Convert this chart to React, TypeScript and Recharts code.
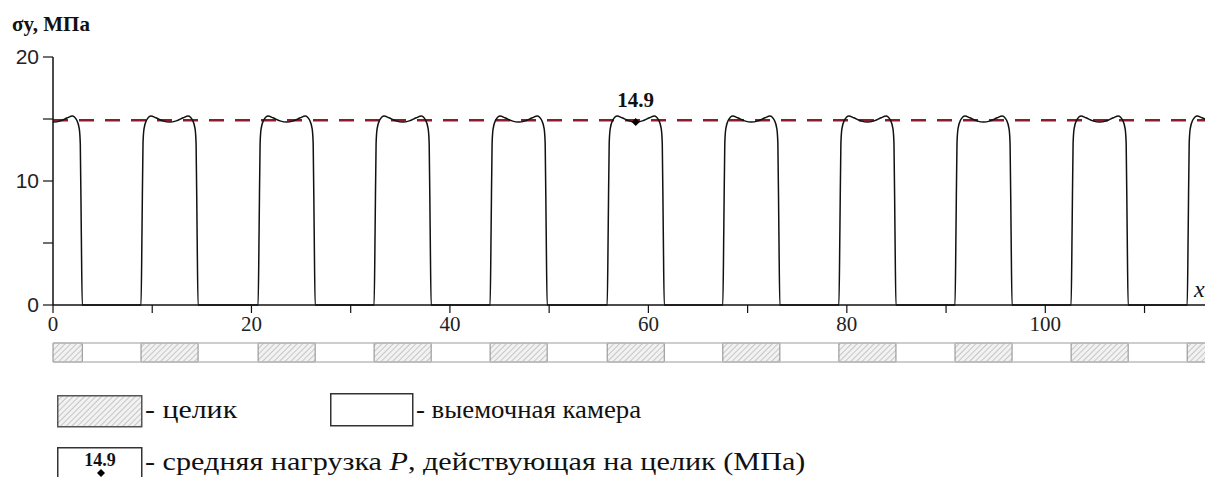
import React from 'react';
import {
  ComposedChart,
  Line,
  XAxis,
  YAxis,
  ReferenceLine,
  ReferenceDot,
  ReferenceArea,
} from 'recharts';

// Left edges of the pillars (целик), in x units
const pillarLeft = [-2.8, 8.87, 20.67, 32.36, 44.05, 55.85, 67.5, 79.2, 90.9, 102.6, 114.3];
const pillarWidth = 5.75;
// Stress profile across one pillar: offset from the left edge, σy (MPa)
const profileOffset = [0, 0.1, 0.2, 0.3, 0.55, 1.0, 1.5, 2.2, 2.875, 3.55, 4.25, 4.75, 5.2, 5.45, 5.55, 5.65, 5.75];
const profileStress = [0, 6, 13.0, 14.2, 14.9, 15.25, 15.1, 14.85, 14.75, 14.85, 15.1, 15.25, 14.9, 14.2, 13.0, 6, 0];

const meanLoad = 14.9;
const markerX = 58.72;
const markerY = 14.75;

const xTicks = [0, 10, 20, 30, 40, 50, 60, 70, 80, 90, 100, 110];
const xLabels = [0, 20, 40, 60, 80, 100];
const yTicks = [0, 5, 10, 15, 20];
const yLabels = [0, 10, 20];
const X_MAX = 116.9;

const curve: { x: number; s: number }[] = [];
pillarLeft.forEach((l) => {
  profileOffset.forEach((o, i) => {
    curve.push({ x: +(l + o).toFixed(3), s: profileStress[i] });
  });
});
const stripData = [
  { x: 0, s: 0 },
  { x: X_MAX, s: 1 },
];

const SERIF = "'Liberation Serif', 'Times New Roman', serif";
const SANS = "'Liberation Sans', Arial, sans-serif";

const Diamond = (props: any) => {
  const { cx, cy } = props;
  const r = 4;
  return <path d={`M${cx},${cy - r}L${cx + r},${cy}L${cx},${cy + r}L${cx - r},${cy}Z`} fill="#000" />;
};

const legendText = (left: number, top: number, scale: number): React.CSSProperties => ({
  position: 'absolute',
  left,
  top,
  fontFamily: SERIF,
  fontSize: 26,
  color: '#111',
  lineHeight: '32px',
  whiteSpace: 'nowrap',
  transform: `scaleX(${scale})`,
  transformOrigin: 'left center',
});

export default function App() {
  return (
    <div style={{ position: 'relative', width: 1205, height: 469, overflow: 'hidden', background: '#fff' }}>
      <svg width={0} height={0} style={{ position: 'absolute' }}>
        <defs>
          <pattern id="hatch" width="4" height="4" patternUnits="userSpaceOnUse" patternTransform="rotate(45)">
            <rect width="4" height="4" fill="#f2f2f2" />
            <line x1="0" y1="0" x2="0" y2="4" stroke="#a8a8a8" strokeWidth="1.2" />
          </pattern>
        </defs>
      </svg>
      <div
        style={{
          position: 'absolute',
          left: 4,
          top: 4,
          fontFamily: SERIF,
          fontWeight: 'bold',
          fontSize: 21,
          color: '#111',
          zIndex: 2,
        }}
      >
        σy, МПа
      </div>
      <ComposedChart width={1205} height={330} data={curve} margin={{ top: 49, right: 0, bottom: 3, left: 0 }}>
        <XAxis
          dataKey="x"
          type="number"
          domain={[0, X_MAX]}
          allowDataOverflow
          ticks={xTicks}
          tickFormatter={(v: number) => (xLabels.includes(v) ? String(v) : '')}
          tickSize={8}
          tickMargin={3}
          height={30}
          axisLine={{ stroke: '#111', strokeWidth: 1.5 }}
          tickLine={{ stroke: '#111', strokeWidth: 1.2 }}
          tick={{ fill: '#222', fontFamily: SERIF, fontSize: 21 }}
          interval={0}
        />
        <YAxis
          type="number"
          domain={[0, 20]}
          ticks={yTicks}
          tickFormatter={(v: number) => (yLabels.includes(v) ? String(v) : '')}
          width={45}
          tickSize={10}
          tickMargin={4}
          axisLine={{ stroke: '#111', strokeWidth: 1.5 }}
          tickLine={{ stroke: '#111', strokeWidth: 1.2 }}
          tick={{ fill: '#222', fontFamily: SANS, fontSize: 21 }}
          interval={0}
        />
        <ReferenceLine y={meanLoad} stroke="#8c1c2c" strokeWidth={2.5} strokeDasharray="15 11" ifOverflow="visible" />
        <Line
          dataKey="s"
          type="monotone"
          stroke="#111"
          strokeWidth={1.5}
          dot={false}
          isAnimationActive={false}
        />
        <ReferenceDot
          x={markerX}
          y={markerY}
          shape={Diamond}
          label={{
            value: String(meanLoad),
            position: 'top',
            offset: 5,
            fill: '#111',
            fontFamily: SERIF,
            fontWeight: 'bold',
            fontSize: 21,
          }}
        />
      </ComposedChart>
      <div
        style={{
          position: 'absolute',
          left: 1186,
          top: 268,
          fontFamily: SERIF,
          fontStyle: 'italic',
          fontSize: 24,
          color: '#111',
          zIndex: 3,
        }}
      >
        x
      </div>
      <ComposedChart width={1205} height={30} data={stripData} margin={{ top: 5, right: 0, bottom: 6, left: 45 }}>
        <XAxis dataKey="x" type="number" domain={[0, X_MAX]} allowDataOverflow hide />
        <YAxis type="number" domain={[0, 1]} allowDataOverflow hide />
        <Line dataKey="s" stroke="none" dot={false} isAnimationActive={false} />
        <ReferenceLine y={1} stroke="#bdbdbd" strokeWidth={1.5} />
        <ReferenceLine y={0} stroke="#bdbdbd" strokeWidth={1.5} />
        {pillarLeft.map((l, i) => (
          <ReferenceArea
            key={i}
            x1={Math.max(0, l)}
            x2={Math.min(X_MAX, l + pillarWidth)}
            y1={0}
            y2={1}
            fill="url(#hatch)"
            fillOpacity={1}
            stroke="#8a8a8a"
            strokeWidth={1}
            ifOverflow="visible"
          />
        ))}
      </ComposedChart>

      {/* Legend */}
      <svg style={{ position: 'absolute', left: 49, top: 387 }} width={86} height={33}>
        <rect x={0.75} y={0.75} width={84} height={31} fill="url(#hatch)" stroke="#555" strokeWidth={1.5} />
      </svg>
      <div style={legendText(137, 386, 1.15)}>- целик</div>
      <svg style={{ position: 'absolute', left: 322, top: 385 }} width={84} height={34}>
        <rect x={0.75} y={0.75} width={82} height={32} fill="#fff" stroke="#333" strokeWidth={1.5} />
      </svg>
      <div style={legendText(408, 386, 1.03)}>- выемочная камера</div>
      <svg style={{ position: 'absolute', left: 49, top: 439 }} width={86} height={40}>
        <rect x={0.75} y={0.75} width={84} height={40} fill="#fff" stroke="#333" strokeWidth={1.5} />
        <text x={43} y={19} textAnchor="middle" fontFamily={SERIF} fontWeight="bold" fontSize={18} fill="#111">
          14.9
        </text>
        <path d="M44,22L48,26L44,30L40,26Z" fill="#000" />
      </svg>
      <div style={legendText(137, 438, 1.16)}>
        - средняя нагрузка <i>P</i>, действующая на целик (МПа)
      </div>
    </div>
  );
}
